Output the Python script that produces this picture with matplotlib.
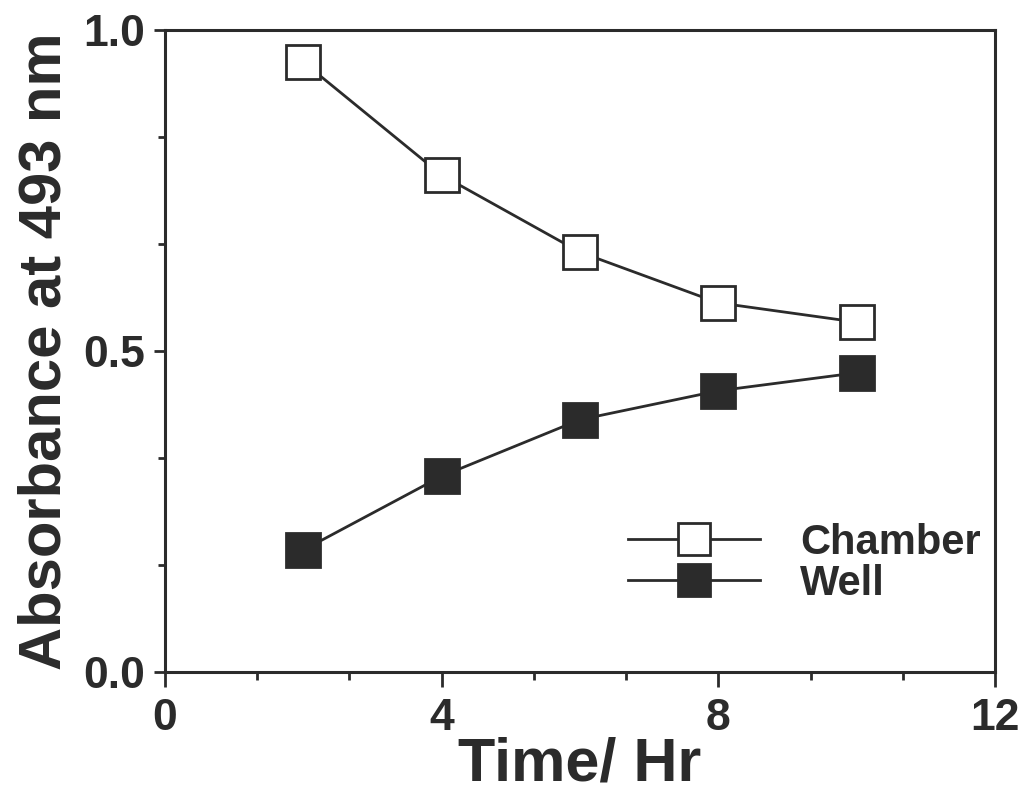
import matplotlib.pyplot as plt
from matplotlib.ticker import MultipleLocator

# data
time_hr = [2, 4, 6, 8, 10]
chamber = [0.950, 0.774, 0.654, 0.575, 0.545]
well = [0.190, 0.305, 0.393, 0.438, 0.466]

ink = "#2b2b2b"
narrow = ["Liberation Sans Narrow", "Liberation Sans", "DejaVu Sans"]
wide = ["Liberation Sans", "DejaVu Sans"]

fig = plt.figure(figsize=(10.21, 7.98), dpi=100)
ax = fig.add_axes([0.1616, 0.1579, 0.8129, 0.8045])

ax.plot(time_hr, chamber, color=ink, linewidth=2.0, marker="s", markersize=25,
        markerfacecolor="white", markeredgecolor=ink, markeredgewidth=2.0,
        label="Chamber")
ax.plot(time_hr, well, color=ink, linewidth=2.0, marker="s", markersize=25,
        markerfacecolor=ink, markeredgecolor=ink, markeredgewidth=2.0,
        label="Well")

ax.set_xlim(0, 12)
ax.set_ylim(0, 1.0)
ax.xaxis.set_major_locator(MultipleLocator(4))
ax.xaxis.set_minor_locator(MultipleLocator(4 / 3))
ax.yaxis.set_major_locator(MultipleLocator(0.5))
ax.yaxis.set_minor_locator(MultipleLocator(0.5 / 3))
ax.yaxis.set_major_formatter(plt.FormatStrFormatter("%.1f"))

for s in ax.spines.values():
    s.set_linewidth(2.2)
    s.set_color(ink)

ax.tick_params(axis="x", which="major", direction="out", length=11, width=2, color=ink, pad=8)
ax.tick_params(axis="x", which="minor", direction="out", length=6, width=2, color=ink)
ax.tick_params(axis="y", which="major", direction="out", length=8, width=2, color=ink, pad=6)
ax.tick_params(axis="y", which="minor", direction="out", length=5, width=2, color=ink)

for lab in ax.get_xticklabels() + ax.get_yticklabels():
    lab.set_family(narrow)
    lab.set_fontweight("bold")
    lab.set_fontsize(32)
    lab.set_color(ink)

ax.set_xlabel("Time/ Hr", family=narrow, fontweight="bold", fontsize=44, color=ink, labelpad=-2)
ax.set_ylabel("Absorbance at 493 nm", family=wide, fontweight="bold", fontsize=43, color=ink, labelpad=8)

leg = ax.legend(loc="upper left", bbox_to_anchor=(0.558, 0.232), frameon=False,
                borderpad=0, borderaxespad=0,
                handlelength=3.17, handletextpad=0.96, labelspacing=0.02,
                prop={"family": narrow, "weight": "bold", "size": 30},
                markerscale=0.9)
for t in leg.get_texts():
    t.set_color(ink)

fig.savefig("out.png", dpi=100)
